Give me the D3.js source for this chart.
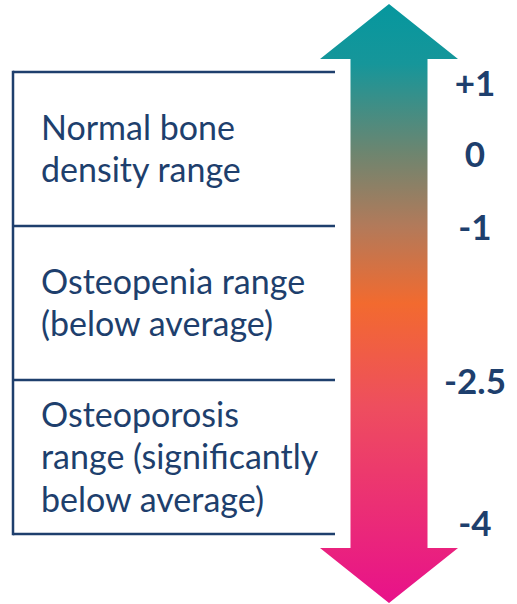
<!DOCTYPE html>
<html>
<head>
<meta charset="utf-8">
<script src="https://cdn.jsdelivr.net/npm/d3@7"></script>
<style>
    body { margin: 0; background: white; }
    svg { display: block; }
</style>
</head>
<body>
<svg id="chart" width="517" height="604"></svg>
<script>
// 三个范围, 从上到下
const ranges = ["normal", "osteopenia", "osteoporosis"];
const rangeLines = [
    ["Normal bone", "density range"],
    ["Osteopenia range", "(below average)"],
    ["Osteoporosis", "range (significantly", "below average)"]
];
// 右侧 T 值刻度
const scores = [1, 0, -1, -2.5, -4];
const scoreLabels = ["+1", "0", "-1", "-2.5", "-4"];
// 箭头渐变颜色
const gradOffsets = [0, 0.1, 0.25, 0.37, 0.5, 0.67, 1];
const gradColors = ["#06979e", "#16969a", "#6e856f", "#b27a5a", "#f26a2f", "#ee4e5e", "#e8118a"];

window.addEventListener("load", main);

function main()
{
    const svg = d3.select("svg#chart");
    const navy = "#1e3f6d";

    // 方框行
    const yBand = d3.scaleBand().domain(ranges).range([72, 534]).padding(0);
    // 刻度位置 (非线性)
    const yScore = d3.scaleLinear().domain(scores).range([83.5, 154.5, 227.5, 381.5, 523.5]);

    const box = svg.append("g");
    box.selectAll("line.row").data(ranges).join("line")
        .attr("class", "row")
        .attr("x1", 13).attr("x2", 335)
        .attr("y1", d => yBand(d)).attr("y2", d => yBand(d))
        .attr("stroke", navy).attr("stroke-width", 2.5);
    box.append("line")
        .attr("x1", 13).attr("x2", 335)
        .attr("y1", yBand.range()[1]).attr("y2", yBand.range()[1])
        .attr("stroke", navy).attr("stroke-width", 2.5);
    box.append("line")
        .attr("x1", 13).attr("x2", 13)
        .attr("y1", yBand.range()[0] - 1.25).attr("y2", yBand.range()[1] + 1.25)
        .attr("stroke", navy).attr("stroke-width", 2.5);

    // 方框里的文字
    box.selectAll("text.range").data(ranges).join("text")
        .attr("class", "range")
        .attr("font-family", "Lato")
        .attr("font-size", 34)
        .attr("fill", navy)
        .each(function(d, i) {
            const lines = rangeLines[i];
            const mid = yBand(d) + yBand.bandwidth() / 2 + 12;
            d3.select(this).selectAll("tspan").data(lines).join("tspan")
                .attr("x", 41)
                .attr("y", (t, j) => mid + (j - (lines.length - 1) / 2) * 42.5)
                .text(t => t);
        });

    // 渐变
    const grad = svg.append("defs").append("linearGradient")
        .attr("id", "arrowGrad")
        .attr("gradientUnits", "userSpaceOnUse")
        .attr("x1", 0).attr("x2", 0).attr("y1", 4).attr("y2", 603);
    grad.selectAll("stop").data(gradOffsets).join("stop")
        .attr("offset", d => d)
        .attr("stop-color", (d, i) => gradColors[i]);

    // 双向箭头
    const cx = 389, shaft = 38.5, head = 69;
    const top = 4, bottom = 603, headH = 55;
    const p = d3.path();
    p.moveTo(cx, top);
    p.lineTo(cx + head, top + headH);
    p.lineTo(cx + shaft, top + headH);
    p.lineTo(cx + shaft, bottom - headH);
    p.lineTo(cx + head, bottom - headH);
    p.lineTo(cx, bottom);
    p.lineTo(cx - head, bottom - headH);
    p.lineTo(cx - shaft, bottom - headH);
    p.lineTo(cx - shaft, top + headH);
    p.lineTo(cx - head, top + headH);
    p.closePath();
    svg.append("path").attr("d", p.toString()).attr("fill", "url(#arrowGrad)");

    // 刻度文字
    svg.selectAll("text.score").data(scores).join("text")
        .attr("class", "score")
        .attr("x", 475)
        .attr("y", d => yScore(d))
        .attr("dy", "0.36em")
        .attr("text-anchor", "middle")
        .attr("font-family", "Lato")
        .attr("font-weight", "bold")
        .attr("font-size", 35)
        .attr("fill", navy)
        .text((d, i) => scoreLabels[i]);
}
</script>
</body>
</html>
